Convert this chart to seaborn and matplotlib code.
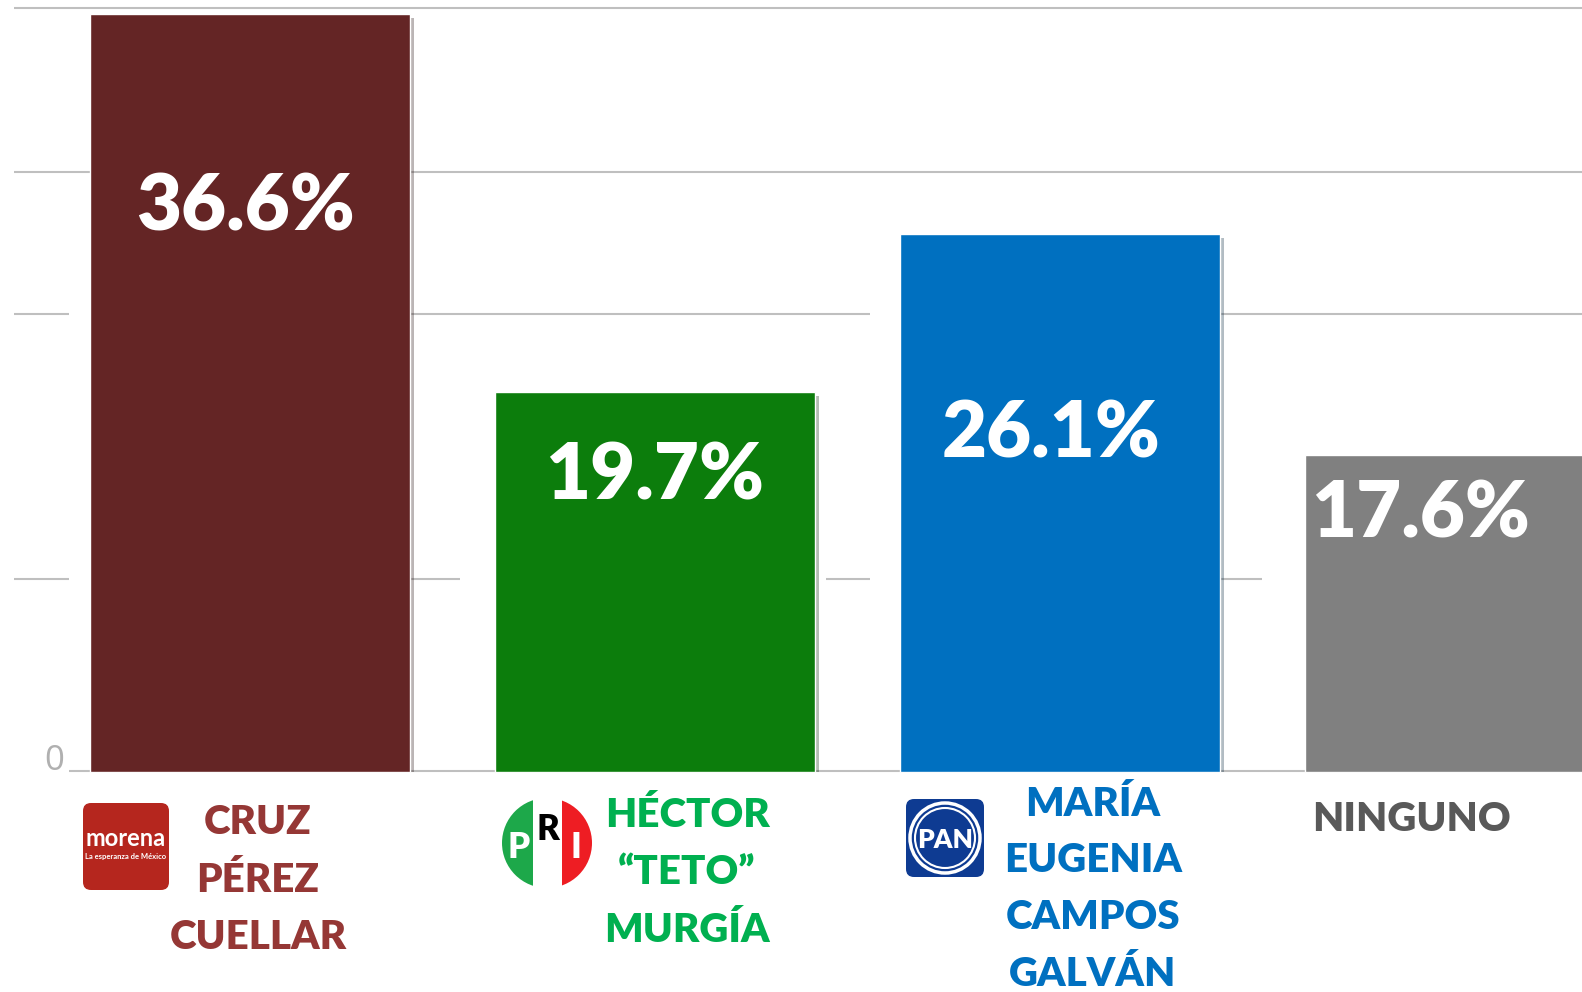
import matplotlib
matplotlib.use("Agg")
import matplotlib.pyplot as plt
import matplotlib.patheffects as pe
from matplotlib.patches import Circle, Rectangle, FancyBboxPatch
import seaborn as sns

# -------------------- data --------------------
candidates = ["CRUZ PÉREZ CUELLAR", "HÉCTOR “TETO” MURGÍA",
              "MARÍA EUGENIA CAMPOS GALVÁN", "NINGUNO"]
name_lines = [["CRUZ", "PÉREZ", "CUELLAR"],
              ["HÉCTOR", "“TETO”", "MURGÍA"],
              ["MARÍA", "EUGENIA", "CAMPOS", "GALVÁN"],
              ["NINGUNO"]]
pct_labels = [36.6, 19.7, 26.1, 17.6]
# bar heights as drawn in the picture (same units as the labels)
bar_heights = [36.6, 18.35, 26.0, 15.3]
bar_colors = ["#642525", "#0C7D0C", "#0070C0", "#808080"]
name_colors = ["#953735", "#00B050", "#0070C0", "#595959"]

# -------------------- layout --------------------
W, H = 1582, 992
base_px = 772          # baseline, px from top
ppu = 20.71            # px per percent unit
cat_px = 405           # px per category
x0_px = 250            # centre of first bar
half = 0.395           # half bar width in category units
grid_col = "#BFBFBF"


def px_x(p):
    return (p - x0_px) / cat_px


sns.set_theme(style="white")
plt.rcParams["font.family"] = ["Lato", "DejaVu Sans"]

fig = plt.figure(figsize=(W / 100, H / 100), dpi=100)
ax = fig.add_axes([0, (H - base_px) / H, 1, base_px / H])

sns.barplot(x=candidates, y=bar_heights, hue=candidates, palette=bar_colors,
            saturation=1, width=2 * half, legend=False, ax=ax, zorder=2)
ax.set_xlim(px_x(0), px_x(W))
ax.set_ylim(0, base_px / ppu)
ax.axis("off")

for bar in ax.patches:
    bar.set_path_effects([pe.SimplePatchShadow(offset=(3, -3), alpha=0.3), pe.Normal()])

# gridlines (partly hidden in the original)
grid = [
    (36.89, [(px_x(14), px_x(W))]),
    (28.97, [(px_x(14), px_x(W))]),
    (22.11, [(px_x(14), px_x(69)), (half, 2 - half - 0.074), (2 + half, px_x(W))]),
    (9.32, [(px_x(14), px_x(69)), (half, half + 0.124),
            (1 + half + 0.027, 2 - half - 0.074), (2 + half, 2 + half + 0.104)]),
]
for level, segs in grid:
    for a, b in segs:
        ax.hlines(level, a, b, color=grid_col, lw=1.5, zorder=1)
ax.hlines(0.05, px_x(69), px_x(W), color=grid_col, lw=1.5, zorder=1, clip_on=False)
ax.text(px_x(64), 0.1, "0", ha="right", va="baseline", color="#B0B0B0",
        fontsize=25, family=["Open Sans", "DejaVu Sans"])

# value labels inside the bars
label_drop_px = [216, 108, 224, 82]
label_dx = [-0.012, 0.0, -0.022, -0.109]
for i, (h, v) in enumerate(zip(bar_heights, pct_labels)):
    ax.text(i + label_dx[i], h - label_drop_px[i] / ppu, f"{v:.1f}%",
            ha="center", va="baseline", color="white", fontsize=56,
            fontweight="heavy", zorder=3)

# -------------------- names and logos --------------------
ov = fig.add_axes([0, 0, 1, 1])
ov.set_xlim(0, W)
ov.set_ylim(H, 0)
ov.axis("off")

name_x = [258, 687, 1093, 1411]
name_y = [820, 813, 802, 817]
line_step = [57.5, 57.5, 56.5, 57.5]
for lines, x, y0, step, c in zip(name_lines, name_x, name_y, line_step, name_colors):
    for k, line in enumerate(lines):
        ov.text(x, y0 + k * step + 14, line, ha="center", va="baseline",
                fontsize=29, fontweight="heavy", color=c)

# morena
ov.add_patch(FancyBboxPatch((83, 803), 86, 87, boxstyle="round,pad=0,rounding_size=8",
                            fc="#B5261E", ec="none"))
ov.text(126, 839, "morena", ha="center", va="center", color="white",
        fontsize=17, fontweight="bold")
ov.text(126, 856, "La esperanza de México", ha="center", va="center",
        color="white", fontsize=5.5, fontweight="bold")

# PRI
circ = Circle((547, 843), 45, transform=ov.transData)
for xa, xb, col in [(500, 533, "#1DA84A"), (533, 562, "white"), (562, 595, "#EE1D23")]:
    r = Rectangle((xa, 795), xb - xa, 100, fc=col, ec="none")
    ov.add_patch(r)
    r.set_clip_path(circ)
ov.text(519, 848, "P", ha="center", va="center", color="white", fontsize=25, fontweight="heavy")
ov.text(548, 830, "R", ha="center", va="center", color="black", fontsize=25, fontweight="heavy")
ov.text(576, 847, "I", ha="center", va="center", color="white", fontsize=25, fontweight="heavy")

# PAN
ov.add_patch(FancyBboxPatch((906, 799), 78, 78, boxstyle="round,pad=0,rounding_size=8",
                            fc="#0E3B92", ec="none"))
ov.add_patch(Circle((945, 838), 35, fc="none", ec="white", lw=2.5))
ov.add_patch(Circle((945, 838), 30, fc="none", ec="white", lw=1.5))
ov.text(945, 840, "PAN", ha="center", va="center", color="white", fontsize=19, fontweight="heavy")

fig.savefig("out.png", dpi=100, facecolor="white")
